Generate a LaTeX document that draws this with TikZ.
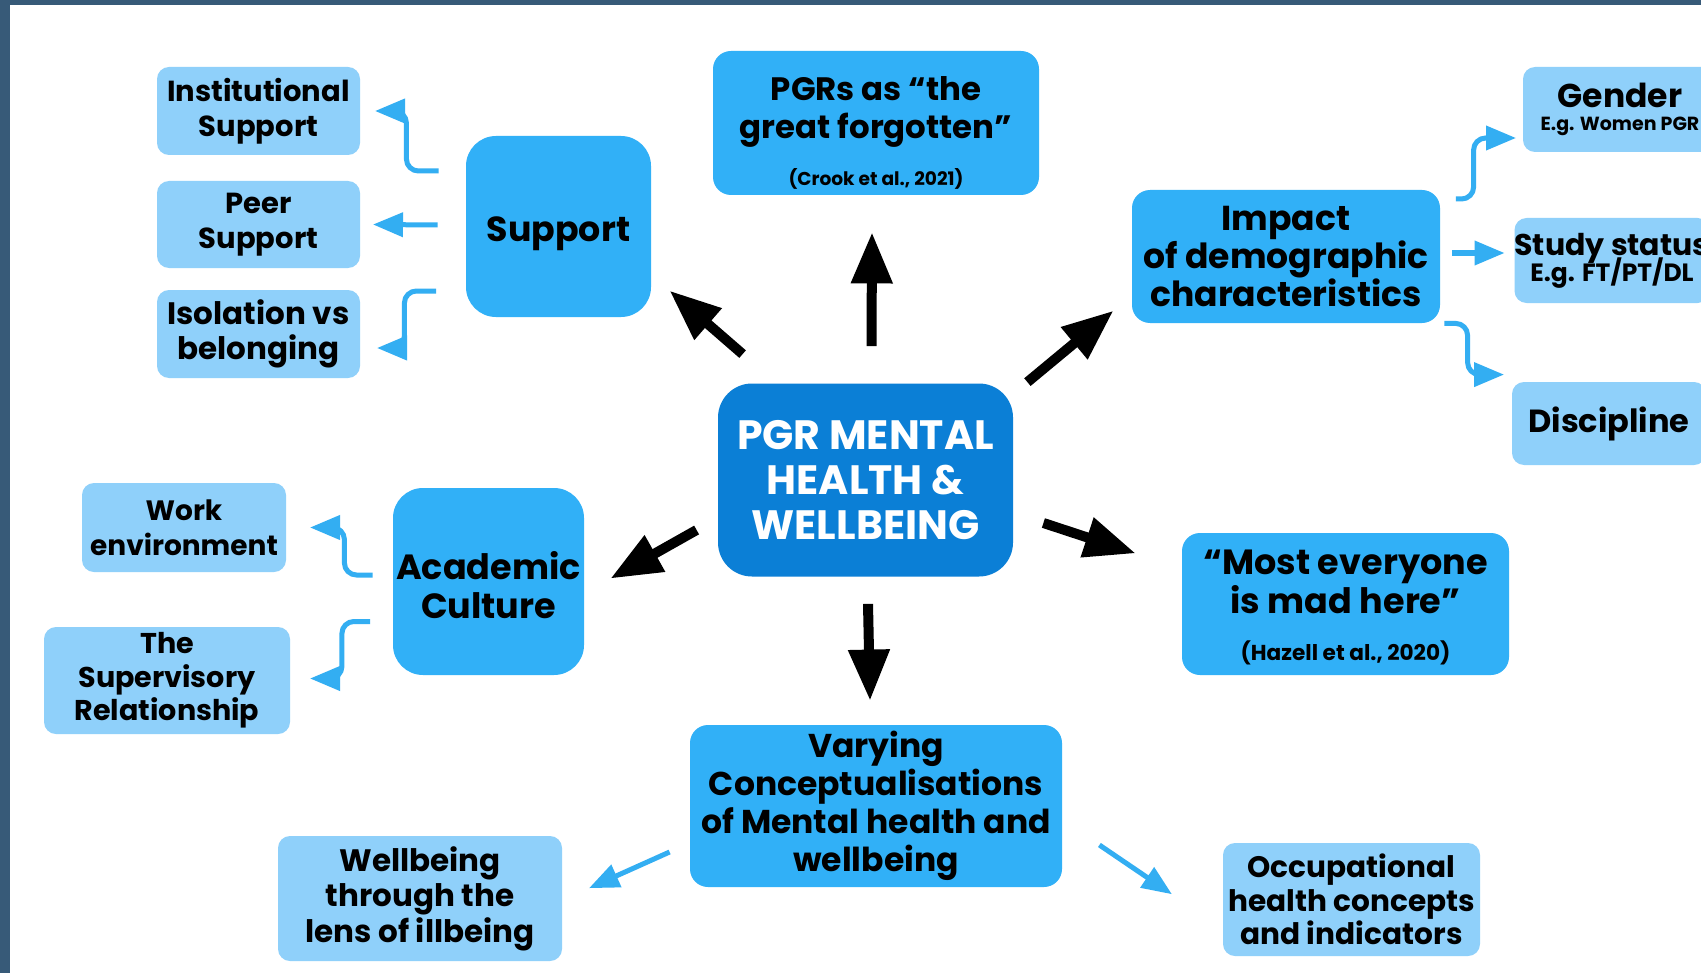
\documentclass[tikz,border=0pt]{standalone}
\usepackage{fontspec}
\setmainfont{Poppins}
\usetikzlibrary{arrows,calc}

\definecolor{hubblue}{HTML}{0B7FD6}
\definecolor{topicblue}{HTML}{31B0F7}
\definecolor{leafblue}{HTML}{8FD0FA}
\definecolor{linkblue}{HTML}{33AEF2}
\definecolor{frameblue}{HTML}{375A78}

\newcommand\fsz[2]{\bfseries\fontsize{#1}{#2}\selectfont}

\tikzset{
  wh/.style 2 args={minimum width=#1*0.5pt,minimum height=#2*0.5pt},
  hub/.style={fill=hubblue,text=white,rounded corners=17pt,align=center,inner sep=0pt,font=\fsz{20.5}{22.5}},
  topic/.style={fill=topicblue,rounded corners=9pt,align=center,inner sep=0pt},
  leaf/.style={fill=leafblue,rounded corners=6pt,align=center,inner sep=0pt,font=\fsz{14.5}{17.5}},
  bigarrow/.style={->,line width=5pt},
  blink/.style={->,line width=2.5pt,color=linkblue,rounded corners=6pt}
}

\begin{document}
\begin{tikzpicture}[line join=round,>=triangle 45,x=0.5pt,y=-0.5pt]
		\useasboundingbox (0,0) rectangle (1701,973);
		\clip (0,0) rectangle (1701,973);
		\fill [white] (0,0) rectangle (1701,973);
		\fill [frameblue] (0,0) rectangle (1701,5);
		\fill [frameblue] (0,0) rectangle (10,973);
		% centre and first ring
		\node [hub,wh={295}{193}] (main) at (865.5,480) {PGR MENTAL\\HEALTH \&\\WELLBEING};
		\node [topic,wh={185}{181},rounded corners=15pt,font=\fsz{17.4}{20},text height=15.4pt,text depth=0pt] (sup) at (558.5,226.5) {Support};
		\node [topic,wh={326}{144},font=\fsz{16.2}{18.6}] (pgr) at (876,123) {\rule{0pt}{22pt}PGRs as “the\\great forgotten”\\[5pt]{\fsz{9.3}{11}(Crook et al., 2021)}};
		\node [topic,wh={308}{133},font=\fsz{17.3}{19.2}] (impact) at (1286,256.5) {Impact\\of demographic\\characteristics};
		\node [topic,wh={191}{187},rounded corners=15pt,font=\fsz{17.5}{19.5}] (acad) at (488.5,581.5) {\rule{0pt}{17.7pt}Academic\\Culture};
		\node [topic,wh={327}{142},font=\fsz{17.5}{19.5}] (most) at (1345.5,604) {\rule{0pt}{16pt}“Most everyone\\is mad here”\\[4pt]{\fsz{10.8}{12}(Hazell et al., 2020)}};
		\node [topic,wh={372}{162},font=\fsz{16.5}{19}] (vary) at (876,806) {Varying\\Conceptualisations\\of Mental health and\\wellbeing};
		% outer ring
		\node [leaf,wh={203}{88}] (inst) at (258.5,111) {Institutional\\Support};
		\node [leaf,wh={203}{87}] (peer) at (258.5,224.5) {Peer\\Support};
		\node [leaf,wh={203}{88},font=\fsz{15.5}{17.5}] (isol) at (258.5,334) {Isolation vs\\belonging};
		\node [leaf,wh={204}{89},font=\fsz{14}{17.5}] (work) at (184,527.5) {Work\\environment};
		\node [leaf,wh={246}{107},font=\fsz{14.3}{16.8}] (superv) at (167,680.5) {The\\Supervisory\\Relationship};
		\node [leaf,wh={284}{125},font=\fsz{15.5}{17.8}] (wellb) at (420,898.5) {Wellbeing\\through the\\lens of illbeing};
		\node [leaf,wh={257}{113},font=\fsz{14.8}{16.8}] (occup) at (1351.5,899.5) {Occupational\\health concepts\\and indicators};
		\node [leaf,wh={194}{85},font=\fsz{16.5}{19}] (gender) at (1620,109.5) {Gender\\[-7.5pt]{\fsz{9.5}{11}E.g. Women PGR}};
		\node [leaf,wh={190}{85},font=\fsz{15}{18}] (study) at (1612,260.5) {Study status\\[-5pt]{\fsz{12.5}{14}E.g. FT/PT/DL}};
		\node [leaf,wh={194}{83},font=\fsz{16}{19}] (disc) at (1609,423.5) {Discipline};
		% black arrows out of the centre
		\draw [bigarrow] ($(main.north west)+(25,-29)$) -- ($(sup.south east)+(19,-26)$);
		\draw [bigarrow] ($(main.north)+(6,-37)$) -- ($(pgr.south)+(-4,38)$);
		\draw [bigarrow] ($(main.north east)+(14,-1)$) -- ($(impact.south west)+(-19,-12)$);
		\draw [bigarrow] ($(main.west)+(-21,50)$) -- ($(acad.east)+(27,-3.5)$);
		\draw [bigarrow] ($(main.east)+(30,43)$) -- ($(most.west)+(-47,-51)$);
		\draw [bigarrow] ($(main.south)+(2.5,27)$) -- ($(vary.north)+(-6,-25)$);
		% blue links
		\draw [blink] ($(sup.west)+(-27,-55.5)$) -| ($(inst.east)+(46,0)$) -- ($(inst.east)+(15,0)$);
		\draw [blink] ($(sup.west)+(-28,-1.5)$) -- ($(peer.east)+(13,0)$);
		\draw [blink] ($(sup.west)+(-29.5,64.5)$) -| ($(isol.east)+(44,14)$) -- ($(isol.east)+(17,14)$);
		\draw [blink] ($(acad.west)+(-20,-6.5)$) -| ($(work.east)+(58,0)$) -- ($(work.east)+(24,0)$);
		\draw [blink] ($(acad.west)+(-22.5,40)$) -| ($(superv.east)+(51.5,-2)$) -- ($(superv.east)+(20,-2)$);
		\draw [blink] ($(impact.east)+(15.5,-57.5)$) -| ($(gender.west)+(-49,28.5)$) -- ($(gender.west)+(-7,28.5)$);
		\draw [blink] ($(impact.east)+(12,-3.5)$) -- ($(study.west)+(-10,-7.5)$);
		\draw [blink] ($(impact.south east)+(4,0)$) -| ($(disc.north west)+(-44,-7)$) -- ($(disc.north west)+(-8,-7)$);
		\draw [blink] ($(vary.west)+(-20,46)$) -- ($(wellb.east)+(27,-10.5)$);
		\draw [blink] ($(vary.east)+(37,39)$) -- ($(occup.west)+(-51,-5.5)$);
	\end{tikzpicture}
\end{document}
